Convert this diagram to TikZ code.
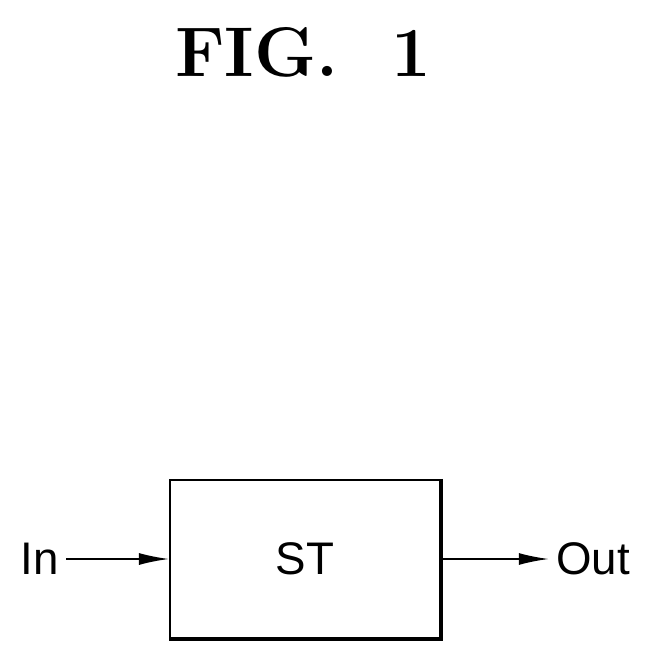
\documentclass[tikz,border=0pt]{standalone}
\usepackage{fontspec}
\newfontfamily\labelfont{Liberation Sans}
\usetikzlibrary{positioning, arrows.meta}

\begin{document}
\begin{tikzpicture}
  [
  x=0.02cm, y=-0.02cm, >={Latex[length=6mm,width=2.4mm]},
  block/.style={draw, line width=1.2pt, minimum width=5.4cm, minimum height=3.16cm,
                font=\labelfont\fontsize{26}{30}\selectfont},
  signal/.style={font=\labelfont\fontsize{26}{30}\selectfont, inner sep=0pt},
  flow/.style={->, line width=1pt}
  ]
  \useasboundingbox (0,0) rectangle (648,662);
  \node[font=\bfseries\fontsize{40}{44}\selectfont] (title) at (303,52) {FIG.\ \ 1};

  \node[block]  (st)  at (305,559) {ST};
  \node[signal] (in)  at (40,559)  {In};
  \node[signal] (out) at (593,559) {Out};

  \draw[flow] ([xshift=4pt]in.east) -- (st.west);
  \draw[flow] (st.east) -- ([xshift=-4pt]out.west);
  % shadow edge on right and bottom
  \draw[line width=2pt] (st.north east) -- (st.south east) -- (st.south west);
\end{tikzpicture}
\end{document}
